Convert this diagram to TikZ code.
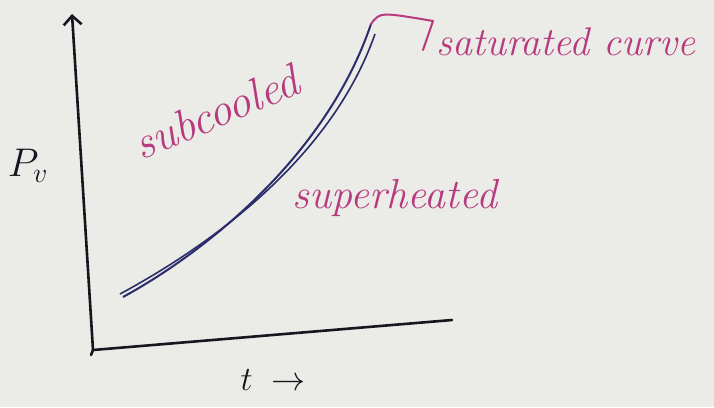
\RequirePackage{fix-cm}
\documentclass[tikz,border=0pt]{standalone}
\usepackage{xcolor}
\usepackage{tikz}
\usepackage{amsmath}
\usetikzlibrary{arrows.meta}

\definecolor{board}{HTML}{EBEBE8}
\definecolor{marker}{HTML}{B83A7E}
\definecolor{ink}{HTML}{2A2D6A}
\definecolor{pen}{HTML}{16161E}

\tikzset{
	lbl/.style={text=marker, font=\fontsize{42}{44}\selectfont\itshape, inner sep=0pt},
	axis/.style={draw=pen, line width=2.6pt, line cap=round},
	hand/.style={text=pen, font=\fontsize{40}{40}\selectfont}
}

\begin{document}
\begin{tikzpicture}[x=1pt,y=-1pt]
				\fill[board] (0,0) rectangle (714,407);
				\useasboundingbox (0,0) rectangle (714,407);
				
				\coordinate (o) at (93,350);
				\coordinate (ytop) at (72,14);
				\coordinate (xend) at (452,320);
				\draw[axis, -{Straight Barb[length=9pt,width=18pt]}] (o) -- (ytop);
				\draw[axis] (91,355) -- (o) -- (xend);
				
				\coordinate (cs) at (123,297);
				\coordinate (ce) at (371,24);
				\draw[ink, line width=2pt] (cs) .. controls (200,255) and (325,160) .. (ce);
				\draw[ink, line width=1.6pt] (120,294) .. controls (205,248) and (330,162) .. (375,34);
				
				\coordinate (lead) at (433,21);
				\draw[marker, line width=2pt, line cap=round, line join=round] (ce) .. controls (380,12) .. (lead) -- (423,50);
				
				\node[lbl, anchor=west, font=\fontsize{40}{42}\selectfont\itshape] (sat) at (436,42) {saturated curve};
				\node[lbl, rotate=23, font=\fontsize{46}{48}\selectfont\itshape] (sub) at (216,112) {subcooled};
				\node[lbl] (sup) at (395,198) {superheated};
				
				\node[hand] (pv) at (28,166) {$P_v$};
				\node[hand, font=\fontsize{34}{34}\selectfont] (tx) at (273,380) {$t\;\rightarrow$};
			\end{tikzpicture}
\end{document}
